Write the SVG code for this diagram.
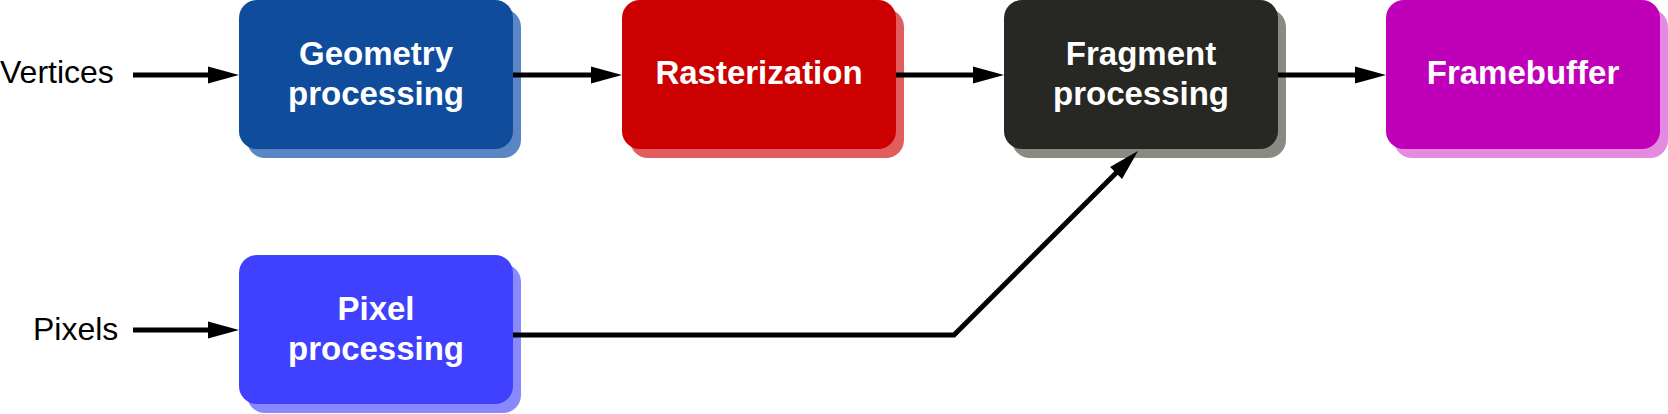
<svg xmlns="http://www.w3.org/2000/svg" width="1668" height="414" viewBox="0 0 1668 414">
<defs>
<marker id="ah" markerUnits="userSpaceOnUse" markerWidth="40" markerHeight="20" viewBox="0 -10 40 20" refX="6" refY="0" orient="auto" overflow="visible">
<path d="M0,-8.5 L31,0 L0,8.5 Z" fill="#000"/>
</marker>
</defs>
<style>
.lbl{font-family:"Liberation Sans",Arial,sans-serif;font-size:32px;fill:#000}
.t{font-family:"Liberation Sans",Arial,sans-serif;font-size:33px;font-weight:bold;fill:#fff;text-anchor:middle}
.c{fill:none;stroke:#000;stroke-width:5}
</style>
<rect width="1668" height="414" fill="#fff"/>
<g id="n-geometry">
<rect x="247" y="9" width="274" height="149" rx="18" fill="#5b86c6"/>
<rect x="239" y="0" width="274" height="149" rx="18" fill="#0f4c9b"/>
<text class="t" x="376" y="65">Geometry</text>
<text class="t" x="376" y="105">processing</text>
</g>
<g id="n-raster">
<rect x="630" y="9" width="274" height="149" rx="18" fill="#e25d5d"/>
<rect x="622" y="0" width="274" height="149" rx="18" fill="#cc0000"/>
<text class="t" x="759" y="84">Rasterization</text>
</g>
<g id="n-fragment">
<rect x="1012" y="9" width="274" height="149" rx="18" fill="#8a8a82"/>
<rect x="1004" y="0" width="274" height="149" rx="18" fill="#272723"/>
<text class="t" x="1141" y="65">Fragment</text>
<text class="t" x="1141" y="105">processing</text>
</g>
<g id="n-framebuffer">
<rect x="1394" y="9" width="274" height="149" rx="18" fill="#e48ae0"/>
<rect x="1386" y="0" width="274" height="149" rx="18" fill="#c000b8"/>
<text class="t" x="1523" y="84">Framebuffer</text>
</g>
<g id="n-pixel">
<rect x="247" y="264" width="274" height="149" rx="18" fill="#8888ff"/>
<rect x="239" y="255" width="274" height="149" rx="18" fill="#4040ff"/>
<text class="t" x="376" y="320">Pixel</text>
<text class="t" x="376" y="360">processing</text>
</g>
<g id="l-vertices"><text class="lbl" x="0" y="83">Vertices</text></g>
<g id="l-pixels"><text class="lbl" x="33" y="340">Pixels</text></g>
<g id="connectors">
<path class="c" d="M133,75 H214" marker-end="url(#ah)"/>
<path class="c" d="M513,75 H597" marker-end="url(#ah)"/>
<path class="c" d="M896,75 H979" marker-end="url(#ah)"/>
<path class="c" d="M1278,75 H1361" marker-end="url(#ah)"/>
<path class="c" d="M133,330 H214" marker-end="url(#ah)"/>
<path class="c" d="M513,335 H954 L1120.3,168.7" marker-end="url(#ah)"/>
</g>
</svg>
